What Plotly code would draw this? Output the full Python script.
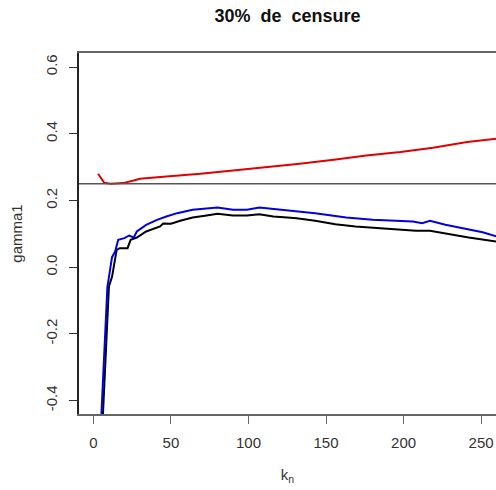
import plotly.graph_objects as go

# Estimateur de gamma1 en fonction du nombre d'extrêmes k_n
k_red = [3, 7, 11, 19, 26, 30, 47, 69, 90, 112, 133, 155, 176, 198, 219, 241, 260]
gamma_red = [0.28, 0.253, 0.25, 0.252, 0.26, 0.265, 0.272, 0.28, 0.29, 0.30,
             0.31, 0.322, 0.335, 0.345, 0.358, 0.375, 0.385]

k_blue = [5, 8, 9, 11, 12, 14, 16, 20, 23, 26, 28, 34, 41, 47, 54, 64, 73, 80,
          90, 99, 107, 116, 125, 131, 143, 163, 180, 195, 206, 212, 217, 227,
          238, 251, 260]
gamma_blue = [-0.455, -0.19, -0.06, 0.0, 0.03, 0.047, 0.082, 0.087, 0.095,
              0.089, 0.107, 0.127, 0.142, 0.152, 0.162, 0.172, 0.175, 0.179,
              0.172, 0.172, 0.179, 0.175, 0.172, 0.169, 0.162, 0.149, 0.142,
              0.139, 0.137, 0.132, 0.139, 0.127, 0.117, 0.105, 0.092]

k_black = [6, 9, 10, 12, 14, 15, 17, 22, 24, 28, 34, 43, 45, 50, 56, 64, 73,
           80, 90, 99, 107, 116, 125, 131, 143, 156, 169, 182, 195, 208, 217,
           229, 242, 260]
gamma_black = [-0.455, -0.188, -0.058, -0.029, 0.02, 0.052, 0.057, 0.057,
               0.082, 0.089, 0.107, 0.122, 0.131, 0.13, 0.139, 0.149, 0.155,
               0.16, 0.155, 0.155, 0.159, 0.152, 0.149, 0.147, 0.139, 0.129,
               0.122, 0.117, 0.114, 0.109, 0.109, 0.099, 0.089, 0.077]

h_ref = 0.25

x_ticks = [0, 50, 100, 150, 200, 250]
y_ticks = [-0.4, -0.2, 0.0, 0.2, 0.4, 0.6]
y_labels = ["-0.4", "-0.2", "0.0", "0.2", "0.4", "0.6"]

FONT = "Liberation Sans, Arial, sans-serif"

fig = go.Figure()
fig.add_trace(go.Scatter(x=k_red, y=gamma_red, mode="lines",
                         line=dict(color="#e00000", width=2), showlegend=False))
fig.add_trace(go.Scatter(x=k_black, y=gamma_black, mode="lines",
                         line=dict(color="#000000", width=2), showlegend=False))
fig.add_trace(go.Scatter(x=k_blue, y=gamma_blue, mode="lines",
                         line=dict(color="#0000e0", width=2), showlegend=False))

# ligne horizontale de référence
fig.add_shape(type="line", xref="paper", x0=0, x1=1, yref="y", y0=h_ref, y1=h_ref,
              line=dict(color="#555555", width=1.5))

fig.update_layout(
    width=496, height=490,
    margin=dict(l=79, r=0, t=53, b=76),
    paper_bgcolor="white", plot_bgcolor="white",
    font=dict(family=FONT, color="#333333", size=15),
    title=dict(text="<b>30%\u00a0\u00a0de\u00a0\u00a0censure</b>",
               font=dict(family=FONT, size=18, color="#111111"),
               x=0.5, xref="paper", xanchor="center",
               y=1 - 16 / 490, yanchor="middle"),
    xaxis=dict(range=[-9.3, 259.6], tickvals=x_ticks,
               ticks="outside", ticklen=8, tickcolor="#666666", tickwidth=1.2,
               showline=True, linecolor="#666666", linewidth=1.5, mirror=True,
               showgrid=False, zeroline=False,
               ticklabelstandoff=6,
               title=dict(text="k<sub>n</sub>", standoff=20,
                          font=dict(size=15, color="#333333"))),
    yaxis=dict(range=[-0.44, 0.642], tickvals=y_ticks, ticktext=y_labels,
               tickangle=-90,
               ticks="outside", ticklen=8, tickcolor="#333333", tickwidth=1.2,
               showline=True, linecolor="#222222", linewidth=1.5, mirror=False,
               showgrid=False, zeroline=False,
               ticklabelstandoff=6,
               title=dict(text="gamma1", standoff=17,
                          font=dict(size=15, color="#333333"))),
)

fig.write_html("out.html")
